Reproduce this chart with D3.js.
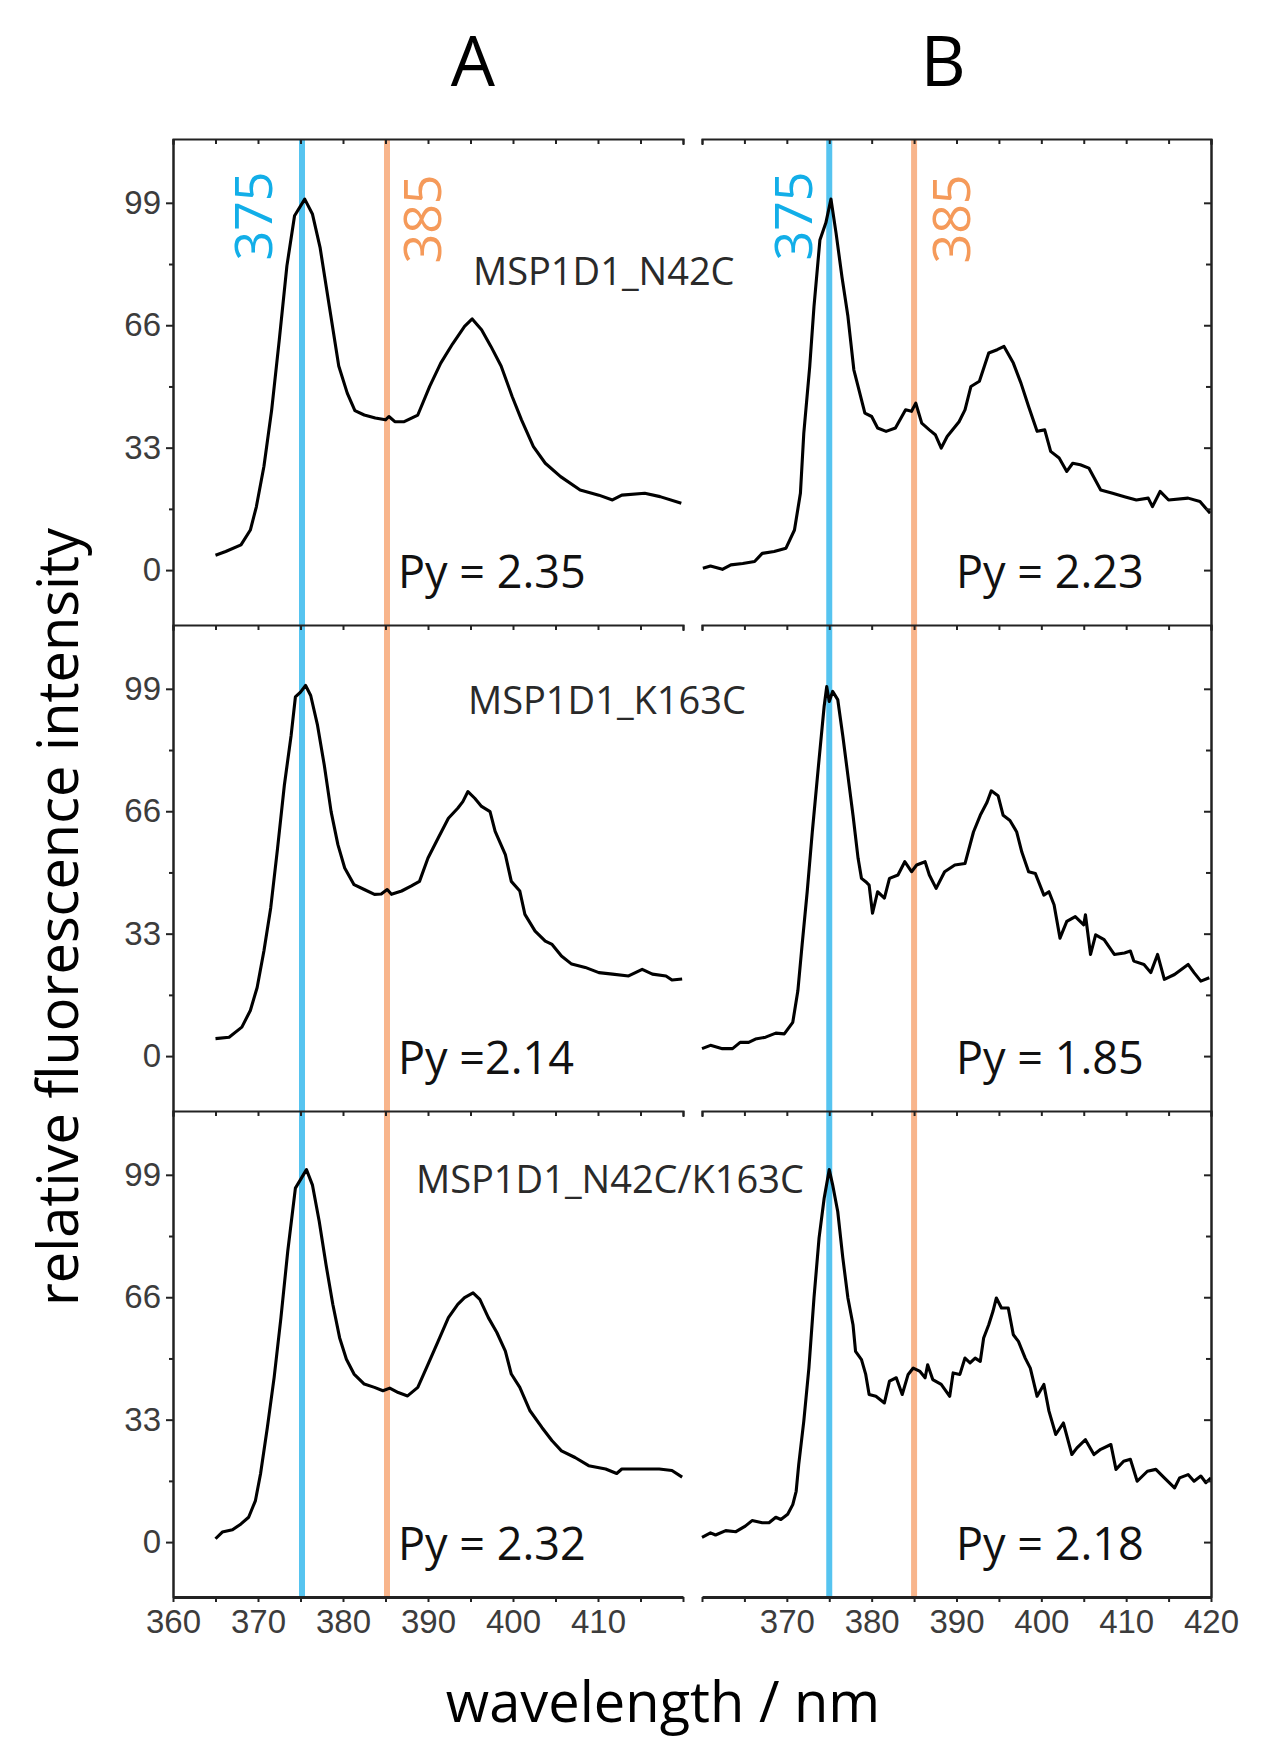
<!DOCTYPE html>
<html>
<head>
<meta charset="utf-8">
<script src="https://cdn.jsdelivr.net/npm/d3@7"></script>
<style>
  body { margin: 0; background: #fff; }
</style>
</head>
<body>
<div id="chart"></div>
<script>
var markers = [375, 385];
var samples = ["MSP1D1_N42C", "MSP1D1_K163C", "MSP1D1_N42C/K163C"];
var pyA = ["Py = 2.35", "Py =2.14", "Py = 2.32"];
var pyB = ["Py = 2.23", "Py = 1.85", "Py = 2.18"];
var yTicks = [0, 33, 66, 99];
var yMinor = [16.5, 49.5, 82.5];
var xTicksA = [360, 370, 380, 390, 400, 410];
var xTicksB = [370, 380, 390, 400, 410, 420];

// [wavelength nm, relative intensity]
var specA1 = [[365,4.0],[366.2,5.0],[368,6.8],[369.1,10.8],[369.8,17],[370.7,28],[371.6,43],[372.5,62],[373.4,82],[374.3,95.5],
  [375.5,100],[376.4,96],[377.3,87],[378.4,71],[379.5,55],[380.5,47.7],[381.4,43],[382.5,41.8],[383.8,41],[385,40.5],
  [385.4,41.4],[386.1,40],[387.2,40],[388.8,41.8],[390.2,49.5],[391.5,55.8],[392.9,61],[394.3,65.7],[395.2,67.7],[396.3,64.8],
  [397.4,60.3],[398.6,55],[399.9,46.8],[401,40.5],[402.4,33.3],[403.8,28.8],[405.6,25.2],[407.9,21.6],[410.1,20.2],[411.7,18.9],
  [412.8,20.2],[415.5,20.7],[417.3,19.8],[419.8,18]];

var specB1 = [[360.1,0.5],[361,1.1],[362.4,0.2],[363.4,1.4],[364.8,1.8],[366.2,2.3],[367.1,4.5],[368.5,5],[369.9,5.9],[370.9,10.8],
  [371.6,20.7],[372,36.9],[372.7,54.9],[373.2,71],[373.9,89],[374.6,93.6],[375.2,100],[375.8,90.9],[376.5,79],[377.2,68.4],
  [377.9,54],[378.6,47.7],[379.2,42.3],[380,41.4],[380.7,38.3],[381.7,37.4],[382.8,38.3],[384,43.2],[384.7,42.8],[385.2,45],
  [385.9,39.6],[386.8,37.8],[387.5,36.5],[388.2,32.9],[388.9,36],[390.3,40],[391,43.2],[391.7,49.5],[392.7,50.9],[393.8,58.5],
  [394.8,59.4],[395.6,60.3],[396.7,55.8],[397.6,50.4],[398.5,44.1],[399.5,37.4],[400.4,37.8],[401.1,32],[402.1,30.2],[403,26.6],
  [403.7,28.8],[404.6,28.4],[405.6,27.5],[407,21.6],[408.4,20.7],[409.8,19.8],[411.2,18.9],[412.6,19.4],[413.1,17.1],[414,21.2],
  [415,18.9],[417.3,19.4],[418.7,18.5],[419.9,15.3]];

var specA2 = [[365,4.7],[366.6,5.1],[368.1,7.8],[369.1,12.3],[369.9,18.5],[370.7,28.4],[371.5,40],[372.3,56],[373.1,73],[373.9,86.5],
  [374.4,96.8],[375,98.1],[375.6,99.9],[376.2,97.2],[377,89.2],[377.8,78.4],[378.6,65.9],[379.4,57],[380.2,50.7],[381.3,46.2],
  [382.5,44.9],[383.7,43.6],[384.5,43.7],[385.2,44.9],[385.7,43.6],[386.9,44.5],[388,45.8],[389,47.1],[390,53.4],[391.2,58.8],
  [392.4,64.1],[393.5,66.8],[394.1,68.6],[394.7,71.3],[395.5,69.5],[396.3,67.3],[397.3,65.9],[397.9,60.6],[399.1,54.3],[399.8,47.1],
  [400.8,44.5],[401.4,38.2],[402.6,33.7],[403.8,31],[404.6,30.1],[405.7,27],[406.9,24.8],[408.5,23.9],[410.1,22.5],[411.7,22.1],
  [413.6,21.6],[415.2,23.4],[416.4,22.1],[418,21.6],[418.7,20.5],[419.9,20.8]];

var specB2 = [[360,2],[361,2.9],[362.4,2],[363.6,2],[364.5,3.7],[365.5,3.7],[366.3,4.6],[367.5,5.1],[368.7,6.2],[369.7,6],
  [370.7,9.1],[371.3,17.6],[371.8,30],[372.4,44.3],[373,60.4],[373.8,80],[374.4,94.3],[374.7,99.6],[375,95.6],[375.4,98.3],
  [376,96.1],[376.6,86.3],[377.2,75.6],[377.8,64.9],[378.4,53.3],[378.8,47.9],[379.3,47],[379.7,46.1],[380.1,38.5],[380.7,44.3],
  [381.5,42.6],[382.1,47.9],[383.1,48.8],[383.9,52.4],[384.7,49.7],[385.3,51.5],[386.3,52.4],[386.8,48.8],[387.6,45.2],[388.6,49.7],
  [389.8,51.5],[391,51.9],[392,60.4],[392.8,64.9],[393.6,68.4],[394.1,71.5],[394.9,70.2],[395.5,64.9],[396.3,63.5],[397.1,60.4],
  [397.7,55],[398.5,49.7],[399.3,49.2],[400.3,43.4],[400.9,44.3],[401.5,40.8],[402.2,31.8],[403,36.3],[404,37.6],[405,35.4],
  [405.2,38.1],[405.8,27.4],[406.4,32.7],[407.4,31.4],[408.6,27.4],[409.8,27.8],[410.5,28.3],[410.9,25.6],[412.1,24.7],[412.9,22.5],
  [413.7,27.4],[414.5,20.7],[415.7,22],[417.3,24.7],[418,22.5],[418.8,20.2],[419.8,21.1]];

var specA3 = [[365,0.9],[365.8,2.7],[367,3.3],[368,4.9],[368.9,6.7],[369.7,11.2],[370.3,18.4],[371.1,30.9],[371.9,44.4],[372.7,60.5],
  [373.5,78.4],[374.4,95.4],[375,97.7],[375.7,100.4],[376.4,96.3],[377.2,86.5],[378,74.8],[378.8,64.1],[379.6,55.1],[380.4,49.3],
  [381.3,45.3],[382.5,42.6],[383.7,41.7],[384.7,40.8],[385.5,41.5],[386.5,40.3],[387.6,39.4],[388.8,41.7],[390,47.9],[391.2,54.2],
  [392.4,60.5],[393.5,64.1],[394.3,65.9],[395.3,67.2],[396.1,65.4],[397.1,60.5],[398.1,56.5],[399.1,51.5],[399.8,45.3],[400.8,41.7],
  [402,35.4],[403.4,30.9],[404.6,27.3],[405.7,24.6],[407.3,22.8],[408.9,20.6],[410.9,19.7],[412.2,18.5],[412.8,19.7],[414.8,19.7],
  [417.2,19.7],[418.7,19.3],[419.9,17.5]];

var specB3 = [[360,1.3],[361,2.5],[361.6,1.9],[362.8,3.1],[364,2.8],[365.1,4.3],[365.9,5.8],[367.1,5.2],[367.9,5.2],[368.7,6.7],
  [369.3,6.1],[370.1,7.5],[370.7,10.1],[371.1,13.7],[371.4,20.9],[372,32.6],[372.6,46.9],[373.2,65.8],[373.8,82],[374.4,92.7],
  [375,100.4],[375.4,96.3],[376,89.1],[376.6,76.6],[377.2,65.8],[377.8,58.6],[378.1,51.4],[378.8,49.2],[379.3,45.2],[379.7,39.8],
  [380.5,39.3],[381.5,37.5],[382.1,43.4],[382.9,44.3],[383.6,39.8],[384.3,45.2],[384.9,46.9],[385.7,46],[386.3,44.3],[386.6,47.8],
  [387.2,43.8],[388.2,42.5],[389.2,39.3],[389.6,45.6],[390.4,45.2],[391,49.6],[391.6,48.3],[392.2,49.6],[392.8,48.7],[393.2,55],
  [393.8,58.6],[394.3,62.2],[394.7,65.8],[395.3,63.1],[396.1,63.1],[396.7,55.9],[397.3,54.1],[398.1,49.6],[398.7,46.9],[399.5,39.3],
  [400.3,42.5],[400.9,35.3],[401.7,29],[402.6,32.1],[403.6,23.6],[404.2,25.4],[405.2,27.6],[406.2,23.6],[407,25],[408.2,26.3],
  [408.8,19.6],[409.7,21.8],[410.5,22.3],[411.3,16.4],[412.5,19.1],[413.5,19.6],[414.5,17.3],[415.7,14.6],[416.3,17.3],[417.3,18.2],
  [418,16.4],[418.8,17.8],[419.4,16],[420,17.3]];

var spectraA = [specA1, specA2, specA3];
var spectraB = [specB1, specB2, specB3];

var width = 1275;
var height = 1763;
var plotTop = 139;
var rowH = 486;
var plotBottom = plotTop + 3 * rowH;

var blue = "#56c4f0";
var orange = "#f8b58c";
var textFont = "'Open Sans', 'Noto Sans', sans-serif";
var tickFont = "'Liberation Sans', Arial, sans-serif";

var xA = d3.scaleLinear().domain([360, 420]).range([173, 683]);
var xB = d3.scaleLinear().domain([360, 420]).range([702, 1211]);

function rowScale(r) {
  return d3.scaleLinear()
           .domain([-14.8, 116.2])
           .range([plotTop + (r + 1) * rowH, plotTop + r * rowH]);
}

var svg = d3.select("#chart")
          .append("svg")
            .attr("width", width)
            .attr("height", height)
            .style("background", "#fff");

function drawPanel(x, spectra, pyLabels, isLeft) {
  var g = svg.append("g");

  // marker lines across all rows
  g.selectAll(".marker")
   .data(markers)
   .enter().append("line")
   .attr("x1", function(d) { return x(d) + (isLeft ? 1.5 : 0); })
   .attr("x2", function(d) { return x(d) + (isLeft ? 1.5 : 0); })
   .attr("y1", plotTop)
   .attr("y2", plotBottom)
   .attr("stroke", function(d, i) { return i == 0 ? blue : orange; })
   .attr("stroke-width", 6);

  spectra.forEach(function(spec, r) {
    var y = rowScale(r);
    var line = d3.line()
                 .x(function(d) { return x(d[0]); })
                 .y(function(d) { return y(d[1]); });

    g.append("path")
     .datum(spec)
     .attr("d", line)
     .attr("fill", "none")
     .attr("stroke", "#000")
     .attr("stroke-width", 3.1)
     .attr("stroke-linejoin", "round");

    // top edge of each row, ticks pointing down
    g.append("g")
     .attr("transform", "translate(0," + (plotTop + r * rowH) + ")")
     .call(d3.axisBottom(x).tickValues(d3.range(360, 421, 5)).tickSize(5).tickSizeOuter(6).tickFormat(""))
     .call(styleAxis);

    if (isLeft) {
      g.append("g")
       .attr("transform", "translate(" + x.range()[0] + ",0)")
       .call(d3.axisLeft(y).tickValues(yMinor).tickSize(4).tickSizeOuter(0).tickFormat(""))
       .call(styleAxis);
      g.append("g")
       .attr("transform", "translate(" + x.range()[0] + ",0)")
       .call(d3.axisLeft(y).tickValues(yTicks).tickSize(7).tickSizeOuter(0).tickPadding(5))
       .call(styleAxis)
       .call(styleTickText);
    } else {
      g.append("g")
       .attr("transform", "translate(" + x.range()[1] + ",0)")
       .call(d3.axisLeft(y).tickValues(yMinor).tickSize(5).tickSizeOuter(0).tickFormat(""))
       .call(styleAxis);
      g.append("g")
       .attr("transform", "translate(" + x.range()[1] + ",0)")
       .call(d3.axisLeft(y).tickValues(yTicks).tickSize(7).tickSizeOuter(0).tickFormat(""))
       .call(styleAxis);
    }

    g.append("text")
     .attr("x", isLeft ? 398 : 956)
     .attr("y", plotTop + r * rowH + 449)
     .attr("font-family", textFont)
     .attr("font-size", 45)
     .attr("fill", "#111")
     .text(pyLabels[r]);
  });

  // bottom axis with labels
  var labelled = isLeft ? xTicksA : xTicksB;
  g.append("g")
   .attr("transform", "translate(0," + plotBottom + ")")
   .call(d3.axisBottom(x).tickValues(d3.range(360, 421, 5)).tickSize(5).tickSizeOuter(0).tickPadding(8)
           .tickFormat(function(d) { return labelled.indexOf(d) >= 0 ? d : ""; }))
   .call(styleAxis)
   .call(styleTickText)
   .select(".domain").attr("stroke-width", 2.8);

  // rotated marker labels
  var labelPos = isLeft ? [371.7, 391.5] : [373, 391.6];
  g.selectAll(".mlabel")
   .data(markers)
   .enter().append("text")
   .attr("transform", function(d, i) {
     return "translate(" + x(labelPos[i]) + "," + (i == 0 ? 216 : 219) + ") rotate(-90)";
   })
   .attr("text-anchor", "middle")
   .attr("font-family", textFont)
   .attr("font-size", 52)
   .attr("fill", function(d, i) { return i == 0 ? "#12aee8" : "#f59a5a"; })
   .text(function(d) { return d; });
}

function styleAxis(sel) {
  sel.attr("font-family", tickFont);
  sel.selectAll("line").attr("stroke", "#222").attr("stroke-width", 2);
  sel.select(".domain").attr("stroke", "#222").attr("stroke-width", 2);
}

function styleTickText(sel) {
  sel.attr("font-size", 33);
  sel.selectAll("text").attr("fill", "#3c3c3c");
}

drawPanel(xA, spectraA, pyA, true);
drawPanel(xB, spectraB, pyB, false);

// sample names
var sampleX = [473, 468, 416];
var sampleY = [285, 714, 1193];
svg.selectAll(".sample")
   .data(samples)
   .enter().append("text")
   .attr("x", function(d, i) { return sampleX[i]; })
   .attr("y", function(d, i) { return sampleY[i]; })
   .attr("font-family", textFont)
   .attr("font-size", 38)
   .attr("fill", "#2a2a2a")
   .text(function(d) { return d; });

// panel headers
svg.selectAll(".header")
   .data(["A", "B"])
   .enter().append("text")
   .attr("x", function(d, i) { return i == 0 ? 473 : 943; })
   .attr("y", 86)
   .attr("text-anchor", "middle")
   .attr("font-family", textFont)
   .attr("font-size", 70)
   .attr("fill", "#000")
   .text(function(d) { return d; });

svg.append("text")
   .attr("transform", "translate(78,917) rotate(-90)")
   .attr("text-anchor", "middle")
   .attr("font-family", textFont)
   .attr("font-size", 56)
   .attr("fill", "#000")
   .text("relative fluorescence intensity");

svg.append("text")
   .attr("x", 663)
   .attr("y", 1722)
   .attr("text-anchor", "middle")
   .attr("font-family", textFont)
   .attr("font-size", 56)
   .attr("fill", "#000")
   .text("wavelength / nm");
</script>
</body>
</html>
